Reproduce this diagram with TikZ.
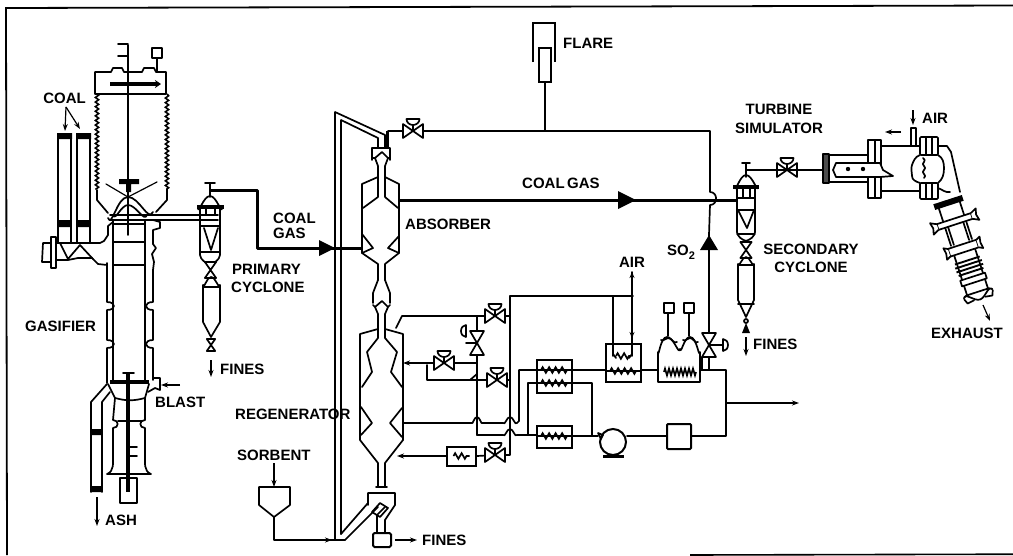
\documentclass[tikz,border=0pt]{standalone}
\usepackage{fontspec}
\setmainfont{Liberation Sans}
\usetikzlibrary{arrows.meta,decorations.pathmorphing,calc}
\tikzset{
  pipe/.style={line width=1.7pt,line join=round,line cap=round},
  thin pipe/.style={line width=1.2pt,line join=round,line cap=round},
  heavy/.style={line width=3pt,line join=round},
  flow/.style={line width=1.2pt,-{Stealth[length=7pt,width=5pt]}},
  coil/.style={line width=1.7pt,decorate,decoration={zigzag,amplitude=2.8pt,segment length=6.5pt}},
  tightcoil/.style={line width=1.7pt,decorate,decoration={zigzag,amplitude=3.4pt,segment length=4pt}},
  corrug/.style={line width=1.6pt,decorate,decoration={zigzag,amplitude=1.6pt,segment length=4.6pt}},
  lab/.style={font=\bfseries\fontsize{15}{16}\selectfont,inner sep=0pt,align=center},
  unit/.style={draw,line width=2pt,inner sep=0pt,fill=white},
  bowtie/.pic={\draw[pipe,fill=white] (-10,-7)--(10,7)--(10,-7)--(-10,7)--cycle;},
  valve up/.pic={\draw[pipe] (0,0)--(0,-11);\draw[pipe,fill=white] (-10,-7)--(10,7)--(10,-7)--(-10,7)--cycle;
     \draw[pipe,fill=white] (-6.5,-12)arc[start angle=180,end angle=0,x radius=6.5,y radius=6]--cycle;},
  valve side/.pic={\draw[pipe,fill=white] (-7,-12)--(7,12)--(-7,12)--(7,-12)--cycle;},
}
\begin{document}
\begin{tikzpicture}[x=1pt,y=-1pt]
\useasboundingbox (0,0) rectangle (1013,555);
\draw[line width=1.8pt] (7,555)--(6,8)--(1013,5.5);
\draw[line width=1.6pt] (690,555)--(1013,554.2);

% ---------- Gasifier
\draw[pipe] (128,45)--(128,235);
\draw[pipe] (118,44)--(128,44) (118,56)--(128,56);
\draw[pipe] (152,48) rectangle (162,58) (157,58)--(157,72);
\draw[pipe] (95,94)--(95,72)--(111,72)--(113,68)--(122,68)--(124,72)--(142,72)--(144,68)--(154,68)--(156,72)--(166,72)--(166,94)--cycle;
\draw[line width=4.5pt,-{Stealth[length=6pt,width=8pt]}] (110,84)--(161,84);
\draw[corrug] (97,94)--(97,190) (167,94)--(167,190);
\draw[pipe] (97,190)--(97,200)--(108,213) (167,190)--(167,200)--(156,212);
\fill (119,179) rectangle (139,184) (126,184) rectangle (131,192);
\draw[thin pipe] (106,184)--(128,197)--(157,182);
\draw[pipe] (108,218) to[out=-70,in=180] (128,197) to[out=0,in=-115] (153,212);
\draw[pipe] (113,215) to[out=-70,in=180] (128,205) to[out=0,in=-110] (147,215);
\draw[pipe] (110,215)--(218,215) (110,220)--(218,220);
% column
\draw[line width=2.6pt] (113,220)--(113,381) (145,220)--(145,381);
\draw[pipe] (113,224)--(145,224) (113,242)--(145,242) (113,265)--(145,265);
\draw[pipe] (107,263)--(107,302) to[out=0,in=0,looseness=3] (107,310)--(107,340) to[out=0,in=0,looseness=3] (107,348)--(107,383);
\draw[pipe] (153,220)--(160,222)--(160,228)--(153,230)--(153,244)--(156,248)--(152,254)--(154,262)--(153,270)--(153,302) to[out=180,in=180,looseness=3] (153,310)--(153,340) to[out=180,in=180,looseness=3] (153,348)--(153,380);
% feed hoppers
\draw[pipe] (58,135)--(58,243) (71,135)--(71,243) (77,135)--(77,243) (90,135)--(90,243);
\fill (57,133) rectangle (72,139) (76,133) rectangle (91,139) (58,220) rectangle (71,227) (77,220) rectangle (90,227);
\draw[pipe] (51,237) rectangle (56,268);
\draw[pipe] (51,243)--(43,243)--(42,262)--(51,262);
\draw[pipe] (56,243)--(100,243)--(104,241)--(108,235)--(108,226)--(113,222);
\draw[pipe] (56,260)--(68,260)--(78,258)--(92,258)--(98,264)--(107,265);
\draw[pipe] (60,243)--(68,259)--(80,245)--(93,259);
\draw[flow] (66,107)--(65,131);
\draw[flow] (66,107)--(80,129);
% lower gasifier
\draw[line width=4.5pt] (110,382)--(149,382);
\draw[line width=3.2pt] (128,374)--(128,492);
\draw[pipe] (123,373)--(134,373) (118,421)--(142,421) (128,447)--(137,447) (128,456)--(137,456);
\draw[pipe] (108,384)--(115,398) (149,384)--(145,398);
\draw[pipe] (115,398) to[out=-15,in=195] (145,398);
\draw[pipe] (115,398)--(113,420) to[out=0,in=0,looseness=2] (113,428)--(113,455) to[out=-90,in=20] (107,474)--(151,474) to[out=160,in=-90] (145,455)--(145,428) to[out=180,in=180,looseness=2] (145,420)--(145,398);
\draw[pipe] (120,478) rectangle (137,503);
\draw[pipe] (153,378)--(160,378)--(160,390)--(155,388)--(148,392);
\draw[flow] (180,385)--(161,385);
% ash leg
\draw[pipe] (107,384)--(91,402)--(91,492) (110,392)--(102,402)--(102,492);
\fill (91,429) rectangle (102,435) (91,486) rectangle (102,492);
\draw[flow] (97,497)--(97,526);

% ---------- Primary cyclone
\draw[heavy] (211,190)--(257,190)--(257,248)--(362,248);
\fill (335,248)--(319,240)--(319,256)--cycle;
\draw[pipe] (205,183)--(215,183) (210,183)--(210,197);
\draw[pipe] (198,208) to[out=-85,in=180] (210,196) to[out=0,in=-95] (222,208);
\draw[line width=3.5pt] (197,207)--(224,207);
\draw[pipe] (200,208)--(200,255) to[out=-80,in=150] (210,265) to[out=30,in=-100] (220,255)--(220,208);
\draw[pipe] (206,209)--(206,215) (215,209)--(215,215);
\draw[pipe] (200,226)--(220,226) (204,228)--(211,250)--(218,228) (200,252)--(220,252);
\path (210.5,270) pic[rotate=90,scale=.8]{bowtie};
\draw[pipe] (203,285)--(203,322) (220,285)--(220,322) (203,285) to[out=-70,in=180] (211,277) to[out=0,in=-110] (220,285) (203,287)--(220,287) (203,322)--(211,337)--(220,322);
\path (211,345) pic[rotate=90,scale=.6]{bowtie};
\draw[flow] (211,360)--(211,377);

% ---------- Sorbent hopper
\draw[flow] (274,463)--(274,487);
\draw[pipe] (259,487)--(290,487)--(290,505)--(274,517)--(259,505)--cycle;
\draw[pipe] (274,517)--(274,540)--(336,540);
\draw[flow] (312,540)--(332,540);

% ---------- Transport riser
\draw[pipe] (345,540)--(335,540)--(335,112)--(385,135)--(385,148);
\draw[pipe] (341,534)--(341,120)--(378,138)--(378,148);
\draw[line width=3pt] (387,131)--(387,148);
\draw[pipe] (345,540)--(378,507) (341,534)--(368,503);

% ---------- Absorber
\draw[pipe] (372,160)--(372,148)--(390,148)--(390,160);
\draw[pipe] (372,158)--(375,158)--(382,152)--(388,158)--(390,158);
\draw[pipe] (375,158)--(378,166)--(378,197)--(363,208);
\draw[pipe] (388,158)--(385,166)--(385,197)--(398,208);
\draw[pipe] (378,177)--(362,184)--(362,253)--(378,264)--(378,280);
\draw[pipe] (385,177)--(399,184)--(399,253)--(385,264)--(385,280);
\draw[pipe] (362,234)--(373,248)--(362,253) (399,236)--(388,248)--(399,253);
\draw[heavy] (341,248)--(362,248);
\draw[heavy] (400,200)--(737,200);
\fill (636,200)--(618,191)--(618,209)--cycle;

% ---------- Regenerator
\draw[pipe] (378,280)--(373,293)--(373,303) (385,280)--(390,293)--(390,303);
\draw[pipe] (373,305)--(375,307)--(382,301)--(388,307)--(390,305);
\draw[pipe] (375,307)--(378,314)--(378,338)--(367,352)--(372,372)--(362,387);
\draw[pipe] (388,307)--(385,314)--(385,338)--(397,352)--(391,372)--(402,387);
\draw[pipe] (378,329)--(360,334)--(360,440)--(378,463)--(378,487);
\draw[pipe] (385,329)--(403,334)--(403,440)--(385,463)--(385,487);
\draw[pipe] (361,407)--(372,423)--(361,435) (402,408)--(390,423)--(402,437);
\draw[pipe] (376,487)--(387,487);
% bottom separator
\draw[pipe] (368,505)--(368,493)--(395,493)--(395,505)--(385,520)--(385,532);
\draw[pipe] (377,532)--(377,515)--(385,507);
\draw[pipe] (372,512)--(380,503)--(388,508)--(380,517)--cycle;
\node[unit,minimum width=18pt,minimum height=14pt,rounded corners=1.5pt] (finesbox) at (382,540) {};
\draw[flow] (395,540)--(417,540);

% ---------- Valves and piping
\coordinate (vTop) at (413,131);
\coordinate (vA) at (495,316);
\coordinate (vB) at (444,363);
\coordinate (vC) at (497,380);
\coordinate (vD) at (495,455);
\coordinate (vSide) at (477,343);
\coordinate (vSO) at (709,345);
\coordinate (vTurb) at (787,170);
\node[unit,minimum width=29pt,minimum height=19pt] (hxSmall) at (461.5,456) {};
\node[unit,minimum width=35pt,minimum height=33pt] (hxDouble) at (554.5,376.5) {};
\node[unit,minimum width=35pt,minimum height=22pt] (hxLow) at (554.5,437) {};
\node[unit,minimum width=35pt,minimum height=38pt] (hxAir) at (623.5,363) {};
\node[unit,minimum width=24pt,minimum height=25pt,rounded corners=1pt] (filterbox) at (679,436.5) {};
\draw[pipe] (388,148)--(388,131)--(vTop) (vTop)--(710,131)--(710,192) to[out=0,in=0,looseness=1.6] (710,205)--(709,235);
\draw[pipe] (709,235)--(vSO);
\fill (709,235)--(700,250)--(718,250)--cycle;
\draw[pipe] (545,82)--(545,131);
\draw[pipe] (396,328)--(402,316)--(vA)--(510,316);
\draw[pipe] (510,296)--(510,455)--(vD);
\draw[pipe] (vD)--(hxSmall.east) (hxSmall.west)--(410,456);
\draw[flow] (420,456)--(397,456);
\draw[pipe] (477,316)--(477,417) to[out=-90,in=90] (477,435);
\draw[pipe] (477,363)--(vB)--(410,363);
\draw[flow] (420,363)--(403,363);
\draw[pipe] (427,365)--(427,380)--(470,380)--(477,374);
\draw[pipe] (470,380)--(vC)--(510,380);
\draw[pipe] (403,423)--(471,423) to[out=-50,in=180] (477,417) to[out=0,in=-130] (483,423)--(503,423) to[out=-50,in=180] (510,417) to[out=0,in=-130] (517,423)--(519,421)--(519,370)--(hxDouble.west|-0,370);
\draw[pipe] (477,435)--(503,435) to[out=-50,in=180] (510,429) to[out=0,in=-130] (517,435)--(hxLow.west|-0,435);
\draw[pipe] (528,435)--(528,383)--(hxDouble.west|-0,383);
\draw[pipe] (hxDouble.east|-0,370)--(hxAir.west|-0,370);
\draw[pipe] (hxAir.east|-0,370)--(658,370);
\draw[pipe] (700,370)--(726,370)--(726,436)--(filterbox.east|-0,436);
\draw[pipe] (filterbox.west|-0,436)--(627,436);
\draw[pipe] (hxDouble.east|-0,383)--(592,383)--(592,436);
\draw[pipe] (hxLow.east|-0,436)--(598,436);
\draw[flow] (726,403)--(799,403);
\draw[pipe] (510,296)--(633,296) (613,296)--(613,356) (632,272)--(632,356);
\draw[line width=1.2pt,{Stealth[length=6pt,width=5pt]}-] (632,272)--(632,290);
\draw[line width=1.2pt,{Stealth[length=6pt,width=5pt]}-] (632,338)--(632,320);
\draw[pipe] (702,357)--(702,370) (709,357)--(709,370);
% pump
\node[draw,circle,line width=2pt,minimum size=26pt,inner sep=0pt] (pump) at (613,442) {};
\draw[line width=3pt] (603,456)--(624,456);
\draw[pipe] (598,433)--(603,435)--(601,439)--cycle;
% coils
\draw[coil] (hxSmall.center)+(-8,0)--+(8,0);
\draw[pipe] (537,370)--(572,370) (537,383)--(572,383) (537,436)--(572,436) (606,371)--(641,371);
\draw[coil] (541,370)--(568,370);
\draw[coil] (541,383)--(568,383);
\draw[coil] (541,436)--(568,436);
\draw[coil] (610,371)--(637,371);
\draw[pipe] (613,345)--(613,354)--(616,358);
\draw[pipe] (632,345)--(632,354)--(629,358);
\draw[coil] (616,356)--(630,356);
% domed exchanger
\draw[pipe] (658,382)--(658,352) to[out=-85,in=180] (667,337) to[out=0,in=-100] (680,349) to[out=-80,in=180] (690,337) to[out=0,in=-100] (700,352)--(700,382)--cycle;
\draw[tightcoil] (664,372)--(696,372);
\draw[pipe] (661,340) to[out=-40,in=180] (668,338) to[out=0,in=-140] (677,342);
\draw[pipe] (683,340) to[out=-40,in=180] (690,338) to[out=0,in=-140] (698,342);
\draw[pipe] (668,313)--(668,336) (689,313)--(689,336);
\draw[pipe] (664,303) rectangle (674,313) (684,303) rectangle (694,313);
% valve symbols
\path (vTop) pic{valve up};
\path (vA) pic{valve up};
\path (vB) pic{valve up};
\path (vC) pic{valve up};
\path (vD) pic{valve up};
\path (vTurb) pic{valve up};
\path (vSide) pic{valve side};
\path (vSO) pic{valve side};
\draw[pipe] (vSide)--++(-11,0);
\draw[pipe,fill=white] (466,337) arc[start angle=90,end angle=270,x radius=5,y radius=6]--cycle;
\draw[pipe] (vSO)--++(14,0);
\draw[pipe,fill=white] (723,339) arc[start angle=-90,end angle=90,x radius=5,y radius=6]--cycle;

% ---------- Flare
\draw[line width=2pt] (533,62)--(533,23)--(555,23)--(555,62);
\draw[line width=2pt] (539,48) rectangle (551,82);

% ---------- Secondary cyclone
\draw[pipe] (742,163)--(750,163) (746,163)--(746,177) (746,170)--(vTurb)--(823,170);
\draw[pipe] (735,187) to[out=-85,in=180] (746,175) to[out=0,in=-95] (758,187);
\draw[line width=3.5pt] (733,187)--(759,187);
\draw[pipe] (737,188)--(737,232) (755,188)--(755,232) (743,188)--(743,198) (750,188)--(750,198);
\draw[pipe] (737,198)--(755,198) (737,210)--(755,210) (738,210)--(747,228)--(754,210);
\draw[pipe] (737,232) to[out=-80,in=160] (746,241) to[out=20,in=-100] (755,232) (737,234)--(755,234);
\path (746,250) pic[rotate=90,scale=.8]{bowtie};
\draw[pipe] (738,264)--(738,300) (754,264)--(754,300) (738,264) to[out=-70,in=180] (746,257) to[out=0,in=-110] (754,264) (738,265)--(754,265) (738,300)--(746,317)--(754,300) (738,304)--(754,304);
\draw[pipe] (746,321) circle (2);
\fill (746,323)--(742,333)--(750,333)--cycle;
\draw[flow] (746,337)--(746,356);

% ---------- Turbine simulator
\fill[black!70] (823,154) rectangle (829,183);
\draw[pipe] (823,154) rectangle (829,183);
\draw[pipe] (829,155)--(868,155) (829,182)--(868,182);
\draw[pipe,fill=white] (868,140) rectangle (881,198) (875,140)--(875,198);
\draw[pipe,fill=white] (880,163)--(836,163)--(833,170)--(836,177)--(880,177)--(893,176)--(883,170)--cycle;
\fill (848,169) circle (2.2) (863,169) circle (2.2);
\draw[pipe] (881,146)--(920,146) (881,191)--(920,191);
\draw[pipe] (911,146)--(911,128)--(916,128)--(916,146);
\draw[flow] (913,110)--(913,125);
\draw[flow] (901,132)--(885,132);
\draw[pipe] (920,155) to[out=-160,in=70] (912,165) to[out=-110,in=90] (912,176) to[out=-90,in=160] (920,183);
\draw[pipe] (938,155) to[out=-30,in=90] (944,168) to[out=-90,in=40] (938,183);
\draw[pipe] (923,158) to[out=-10,in=10] (924,162) to[out=190,in=170] (924,166) to[out=-10,in=10] (924,170) to[out=190,in=170] (924,174) to[out=-10,in=10] (924,178);
\draw[pipe,fill=white,rounded corners=1pt] (920,137) rectangle (938,155) (920,183) rectangle (938,199);
\draw[pipe] (926,137)--(926,155) (932,137)--(932,155) (926,183)--(926,199) (932,183)--(932,199);
\draw[pipe] (938,146)--(947,146)--(951,152)--(960,192);
\draw[pipe] (938,188) to[out=-20,in=190] (950,192);
\begin{scope}[shift={(948.5,202.5)},rotate=18]
  \draw[pipe] (-11,2)--(-11,42) (11,2)--(11,42) (-11,50)--(-11,95) (11,50)--(11,95) (-8,22)--(-8,42) (8,22)--(8,42);
  \draw[line width=6pt] (-15,0)--(15,0);
  \draw[pipe,fill=white] (-18,17) rectangle (18,23);
  \draw[pipe,fill=white] (-18,17)--(-24,14)--(-22.5,20)--(-24,26)--(-18,23);
  \draw[pipe,fill=white] (18,17)--(24,14)--(22.5,20)--(24,26)--(18,23);
  \draw[pipe,fill=white] (-15,44) rectangle (15,52);
  \draw[pipe,fill=white] (-15,44)--(-19,42)--(-18,48)--(-19,54)--(-15,52);
  \draw[pipe,fill=white] (15,44)--(19,42)--(18,48)--(19,54)--(15,52);
  \draw[line width=1.9pt] (-13,61)--(13,61) (-14,65)--(14,65) (-14,69)--(14,69) (-13,73)--(13,73);
  \draw[pipe,fill=white] (-13,78) rectangle (13,84);
  \draw[pipe,fill=white] (-15,96) to[out=60,in=180] (0,102) to[out=0,in=120] (15,96)--(12,94)--(-12,94)--cycle;
  \draw[pipe] (-15,97)--(-13,102)--(-6,101) (15,97)--(13,102)--(6,101);
\end{scope}
\draw[flow] (983,305)--(990,321);

% ---------- Labels
\node[lab] (lCoal) at (64.5,98) {COAL};
\node[lab,anchor=west] (lCoal2) at (273,218) {COAL};
\node[lab,anchor=west] (lGas2) at (273,233) {GAS};
\node[lab,anchor=west] (lPrim) at (232,269) {PRIMARY};
\node[lab,anchor=west] (lCyc) at (231,287) {CYCLONE};
\node[lab,anchor=west] (lGasif) at (25,326) {GASIFIER};
\node[lab,anchor=west] (lFines1) at (220,369) {FINES};
\node[lab,anchor=west] (lBlast) at (155,402) {BLAST};
\node[lab,anchor=west] (lRegen) at (235,414) {REGENERATOR};
\node[lab,anchor=west] (lSorb) at (237,455) {SORBENT};
\node[lab,anchor=west] (lAsh) at (105,520) {ASH};
\node[lab,anchor=west] (lFines2) at (422,540) {FINES};
\node[lab,anchor=west] (lAbs) at (405,224) {ABSORBER};
\node[lab,anchor=west] (lCG) at (522,183) {COAL\hspace{2.5pt}GAS};
\node[lab,anchor=west] (lFlare) at (563,43) {FLARE};
\node[lab] (lAir1) at (632,262) {AIR};
\node[lab,anchor=west] (lSO) at (667,252) {SO\raisebox{-4pt}{\fontsize{11}{12}\selectfont 2}};
\node[lab] (lTurb) at (779,109) {TURBINE};
\node[lab] (lSim) at (779,128) {SIMULATOR};
\node[lab,anchor=west] (lAir2) at (922,118) {AIR};
\node[lab] (lSec) at (811,249) {SECONDARY};
\node[lab] (lCyc2) at (811,267) {CYCLONE};
\node[lab,anchor=west] (lFines3) at (753,344) {FINES};
\node[lab,anchor=west] (lExh) at (931,333) {EXHAUST};
\end{tikzpicture}
\end{document}
